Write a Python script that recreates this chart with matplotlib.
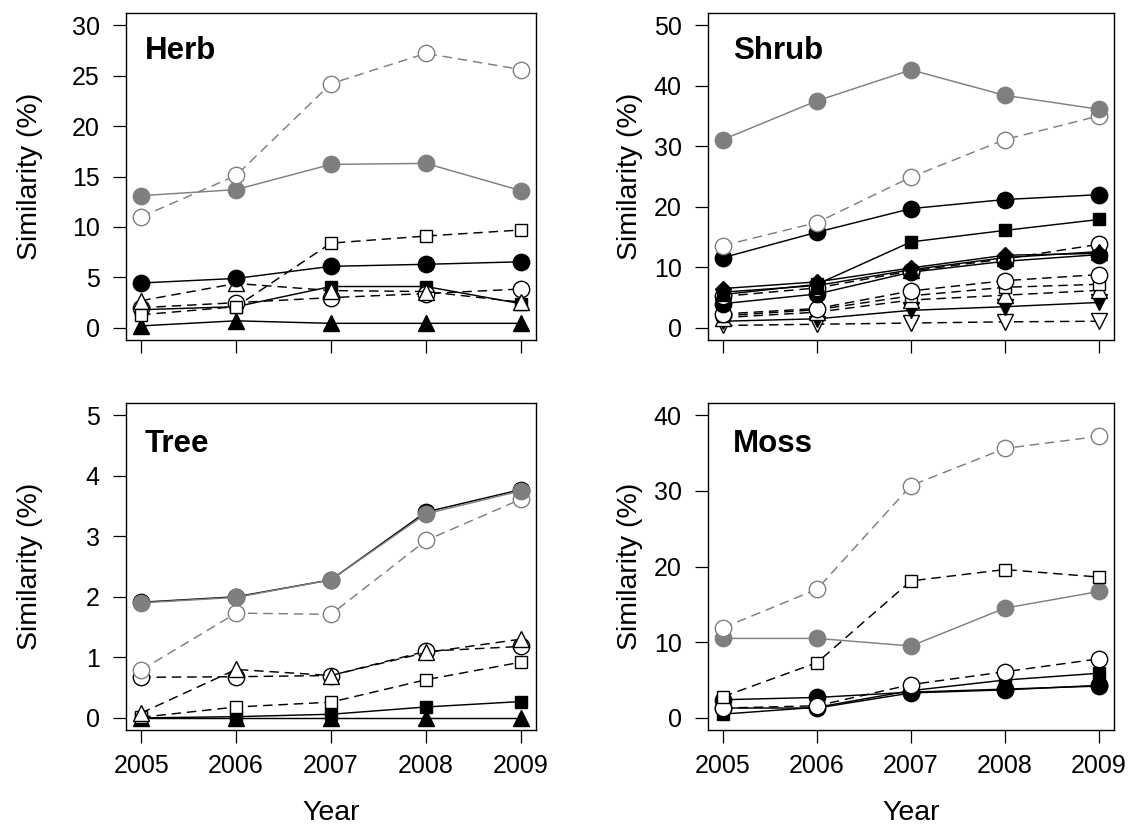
import matplotlib
matplotlib.use("Agg")
import matplotlib.pyplot as plt

plt.rcParams['font.family'] = ['Liberation Sans', 'DejaVu Sans']

# ---------------- data ----------------
years = [2005, 2006, 2007, 2008, 2009]
year_labels = ["2005", "2006", "2007", "2008", "2009"]

# Herb
herb_gray_closed = [13.1, 13.7, 16.2, 16.3, 13.6]
herb_gray_open = [11.0, 15.1, 24.2, 27.2, 25.6]
herb_open_square = [1.3, 2.1, 8.4, 9.1, 9.7]
herb_closed_circle = [4.45, 4.9, 6.1, 6.3, 6.55]
herb_open_triangle = [2.7, 4.4, 3.7, 3.6, 2.55]
herb_open_circle = [2.0, 2.5, 3.0, 3.4, 3.85]
herb_closed_square = [1.8, 2.1, 4.1, 4.1, 2.4]
herb_closed_triangle = [0.2, 0.7, 0.45, 0.45, 0.45]

# Shrub
shrub_gray_closed = [31.1, 37.5, 42.6, 38.4, 36.1]
shrub_gray_open = [13.6, 17.4, 24.9, 31.1, 35.0]
shrub_closed_circle = [11.6, 15.8, 19.7, 21.2, 22.0]
shrub_closed_square = [5.5, 7.2, 14.2, 16.1, 17.9]
shrub_closed_diamond = [6.5, 7.6, 9.9, 12.0, 12.3]
shrub_closed_triangle = [5.9, 7.0, 9.6, 11.6, 12.6]
shrub_open_circle_a = [5.2, 6.6, 9.4, 11.4, 13.8]
shrub_closed_circle_b = [4.0, 5.6, 9.2, 11.0, 12.1]
shrub_open_circle_b = [2.3, 3.2, 6.1, 7.8, 8.8]
shrub_open_square = [2.0, 3.0, 5.3, 6.7, 7.2]
shrub_open_triangle = [1.7, 2.6, 4.6, 5.4, 6.2]
shrub_closed_down = [1.1, 1.5, 2.9, 3.5, 4.2]
shrub_open_down = [0.4, 0.6, 0.8, 1.0, 1.1]

# Tree
tree_closed_circle = [1.91, 2.00, 2.28, 3.40, 3.77]
tree_gray_closed = [1.90, 1.99, 2.28, 3.37, 3.75]
tree_gray_open = [0.79, 1.73, 1.71, 2.93, 3.61]
tree_open_triangle = [0.08, 0.80, 0.70, 1.08, 1.30]
tree_open_circle = [0.67, 0.68, 0.70, 1.10, 1.18]
tree_open_square = [0.01, 0.18, 0.26, 0.63, 0.92]
tree_closed_square = [0.0, 0.02, 0.06, 0.18, 0.27]
tree_closed_triangle = [0.0, 0.0, 0.0, 0.0, 0.0]

# Moss
moss_gray_open = [11.9, 17.0, 30.7, 35.6, 37.2]
moss_open_square = [2.8, 7.3, 18.1, 19.6, 18.6]
moss_gray_closed = [10.5, 10.5, 9.5, 14.5, 16.7]
moss_open_circle = [1.3, 1.6, 4.4, 6.1, 7.8]
moss_closed_square = [0.5, 1.4, 3.6, 5.0, 5.9]
moss_closed_circle = [2.4, 2.7, 3.4, 3.8, 4.2]
moss_closed_circle_b = [1.3, 1.3, 3.3, 3.7, 4.3]

# ---------------- styles ----------------
GRAY = '#7f7f7f'
DASH = (6.5, 4.0)


def style(kind):
    base = dict(lw=1.05, mew=1.0)
    table = {
        'gray_closed': dict(marker='o', mfc=GRAY, mec=GRAY, color=GRAY, ls='-', ms=11.8),
        'gray_open': dict(marker='o', mfc='white', mec=GRAY, color=GRAY, ls='--', ms=11.8),
        'closed_circle': dict(marker='o', mfc='black', mec='black', color='black', ls='-', ms=11.8),
        'open_circle': dict(marker='o', mfc='white', mec='black', color='black', ls='--', ms=11.8),
        'closed_square': dict(marker='s', mfc='black', mec='black', color='black', ls='-', ms=9.2),
        'open_square': dict(marker='s', mfc='white', mec='black', color='black', ls='--', ms=8.5),
        'closed_triangle': dict(marker='^', mfc='black', mec='black', color='black', ls='-', ms=11.2),
        'open_triangle': dict(marker='^', mfc='white', mec='black', color='black', ls='--', ms=11.2),
        'closed_diamond': dict(marker='D', mfc='black', mec='black', color='black', ls='-', ms=8.2),
        'closed_down': dict(marker='v', mfc='black', mec='black', color='black', ls='-', ms=11.2),
        'open_down': dict(marker='v', mfc='white', mec='black', color='black', ls='--', ms=11.2),
    }
    d = dict(base)
    d.update(table[kind])
    return d


panels = [
    dict(title='Herb', ymax=30, ystep=5, title_x=0.046, title_y=0.858,
         pos=(126, 13, 536, 340), xlabels=False,
         series=[
             (herb_closed_triangle, 'closed_triangle'),
             (herb_closed_square, 'closed_square'),
             (herb_open_circle, 'open_circle'),
             (herb_open_triangle, 'open_triangle'),
             (herb_closed_circle, 'closed_circle'),
             (herb_open_square, 'open_square'),
             (herb_gray_closed, 'gray_closed'),
             (herb_gray_open, 'gray_open'),
         ]),
    dict(title='Shrub', ymax=50, ystep=10, title_x=0.062, title_y=0.858,
         pos=(708, 13, 1114, 340), xlabels=False,
         series=[
             (shrub_open_down, 'open_down'),
             (shrub_closed_down, 'closed_down'),
             (shrub_open_triangle, 'open_triangle'),
             (shrub_open_square, 'open_square'),
             (shrub_open_circle_b, 'open_circle'),
             (shrub_closed_circle_b, 'closed_circle'),
             (shrub_open_circle_a, 'open_circle'),
             (shrub_closed_triangle, 'closed_triangle'),
             (shrub_closed_diamond, 'closed_diamond'),
             (shrub_closed_square, 'closed_square'),
             (shrub_closed_circle, 'closed_circle'),
             (shrub_gray_open, 'gray_open'),
             (shrub_gray_closed, 'gray_closed'),
         ]),
    dict(title='Tree', ymax=5, ystep=1, title_x=0.046, title_y=0.851,
         pos=(126, 403, 536, 730), xlabels=True,
         series=[
             (tree_closed_triangle, 'closed_triangle'),
             (tree_closed_square, 'closed_square'),
             (tree_open_square, 'open_square'),
             (tree_open_circle, 'open_circle'),
             (tree_open_triangle, 'open_triangle'),
             (tree_gray_open, 'gray_open'),
             (tree_closed_circle, 'closed_circle'),
             (tree_gray_closed, 'gray_closed'),
         ]),
    dict(title='Moss', ymax=40, ystep=10, title_x=0.062, title_y=0.851,
         pos=(708, 403, 1114, 730), xlabels=True,
         series=[
             (moss_closed_circle_b, 'closed_circle'),
             (moss_closed_circle, 'closed_circle'),
             (moss_closed_square, 'closed_square'),
             (moss_open_circle, 'open_circle'),
             (moss_gray_closed, 'gray_closed'),
             (moss_open_square, 'open_square'),
             (moss_gray_open, 'gray_open'),
         ]),
]

W, H = 1131, 826
fig = plt.figure(figsize=(W / 100, H / 100), dpi=100)

for p in panels:
    x0, y0, x1, y1 = p['pos']
    ax = fig.add_axes([x0 / W, 1 - y1 / H, (x1 - x0) / W, (y1 - y0) / H])
    for vals, kind in p['series']:
        kw = style(kind)
        line, = ax.plot(years, vals, **kw)
        if kw['ls'] == '--':
            line.set_dashes(DASH)
    ext_x = 0.04 * (years[-1] - years[0])
    ax.set_xlim(years[0] - ext_x, years[-1] + ext_x)
    ext_y = 0.04 * p['ymax']
    ax.set_ylim(-ext_y, p['ymax'] + ext_y)
    ax.set_xticks(years)
    ax.set_xticklabels(year_labels)
    yt = list(range(0, p['ymax'] + 1, p['ystep']))
    ax.set_yticks(yt)
    ax.set_yticklabels([str(v) for v in yt])
    ax.tick_params(axis='both', direction='out', length=9.5, width=0.9,
                   labelsize=18, colors='black')
    ax.tick_params(axis='x', pad=7.5, labelbottom=p['xlabels'])
    ax.tick_params(axis='y', pad=9.5)
    for s in ax.spines.values():
        s.set_linewidth(1.0)
        s.set_color('black')
    ax.text(p['title_x'], p['title_y'], p['title'], transform=ax.transAxes,
            fontsize=22.5, fontweight='bold', ha='left', va='baseline')

# axis titles
for cx, (top, bot) in [(30, (13, 340)), (630, (13, 340)), (30, (403, 730)), (630, (403, 730))]:
    fig.text(cx / W, 1 - (top + bot) / 2 / H, 'Similarity (%)', rotation=90,
             ha='center', va='center', fontsize=20.5)
for cx in [(126 + 536) / 2, (708 + 1114) / 2]:
    fig.text(cx / W, (H - 820.5) / H, 'Year', ha='center', va='baseline', fontsize=20.5)

fig.savefig('out.png', dpi=100, facecolor='white')
